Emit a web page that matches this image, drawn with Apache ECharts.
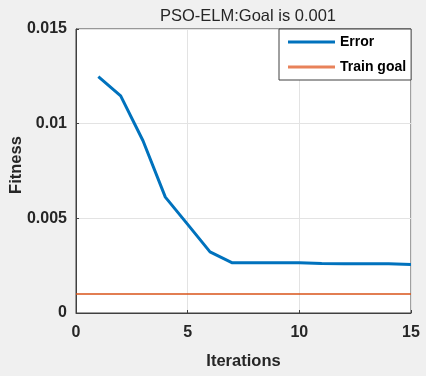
<!DOCTYPE html>
<html><head><meta charset="utf-8">
<script src="https://cdn.jsdelivr.net/npm/echarts@6/dist/echarts.min.js"></script>
<style>html,body{margin:0;padding:0;background:#f0f0f0}#c{width:426px;height:376px}</style>
</head><body><div id="c"></div>
<script>
const iterations = [1,2,3,4,5,6,7,8,9,10,11,12,13,14,15];
const errorValues = [0.01248,0.01147,0.0091,0.00612,0.00468,0.00323,0.00265,0.00265,0.00265,0.00265,0.00261,0.0026,0.0026,0.0026,0.00256];
const goalValue = 0.001;
const goalX = [0,15];
const titleText = 'PSO-ELM:Goal is 0.001';
const chart = echarts.init(document.getElementById('c'));
const font = 'Arial, "Liberation Sans", sans-serif';
chart.setOption({
  backgroundColor:'#f0f0f0',
  animation:false,
  title:{text:titleText,left:243,top:3,textAlign:'center',textStyle:{fontFamily:font,fontWeight:'normal',fontSize:16.5,color:'#262626'}},
  grid:{left:76,right:15,top:29,bottom:63,show:true,backgroundColor:'#fff',borderColor:'#404040',borderWidth:1,containLabel:false,outerBoundsMode:'none'},
  legend:{orient:'vertical',left:279,top:29,backgroundColor:'#fff',borderColor:'#404040',borderWidth:1,padding:[6,5,6,9],itemGap:11,itemWidth:47,itemHeight:3,icon:'rect',
    textStyle:{fontFamily:font,fontWeight:'bold',fontSize:14,color:'#000'},
    data:[{name:'Error'},{name:'Train goal'}]},
  xAxis:{type:'value',min:0,max:15,interval:5,name:'Iterations',nameLocation:'middle',nameGap:40,nameMoveOverlap:false,
    nameTextStyle:{fontFamily:font,fontWeight:'bold',fontSize:16.5,color:'#262626'},
    axisLine:{lineStyle:{color:'#404040'}},axisTick:{inside:true,length:3,lineStyle:{color:'#404040'}},
    axisLabel:{fontFamily:font,fontWeight:'bold',fontSize:16,color:'#262626',margin:12},
    splitLine:{show:true,lineStyle:{color:'#e3e3e3'}}},
  yAxis:{type:'value',min:0,max:0.015,interval:0.005,name:'Fitness',nameLocation:'middle',nameGap:51,nameMoveOverlap:false,
    nameTextStyle:{fontFamily:font,fontWeight:'bold',fontSize:16.5,color:'#262626',padding:[0,0,0,12]},
    axisLine:{show:true,lineStyle:{color:'#404040'}},axisTick:{show:true,inside:true,length:3,lineStyle:{color:'#404040'}},
    axisLabel:{fontFamily:font,fontWeight:'bold',fontSize:16,color:'#262626',margin:9,formatter:v=>String(parseFloat(v.toFixed(4)))},
    splitLine:{show:true,lineStyle:{color:'#e3e3e3'}}},
  series:[
    {name:'Error',type:'line',data:iterations.map((x,i)=>[x,errorValues[i]]),symbol:'none',lineStyle:{color:'#0072BD',width:3},itemStyle:{color:'#0072BD'}},
    {name:'Train goal',type:'line',data:goalX.map(x=>[x,goalValue]),symbol:'none',lineStyle:{color:'#D95319',width:1.5},itemStyle:{color:'#E8825A'}}
  ]
});
</script></body></html>
